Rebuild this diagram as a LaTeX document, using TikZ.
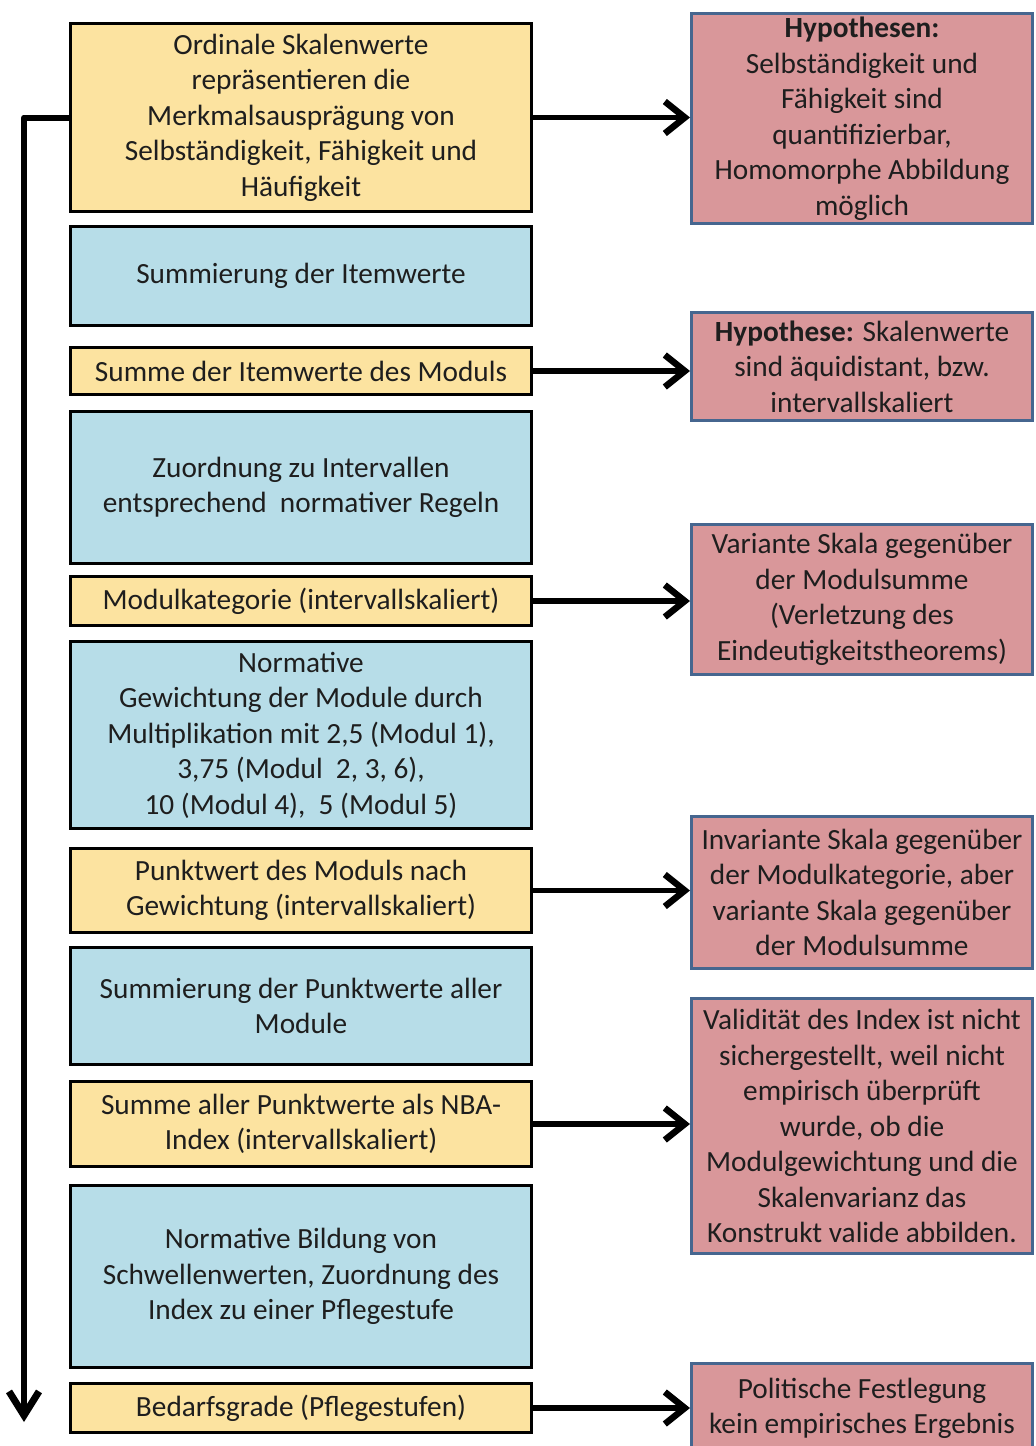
\documentclass[tikz,border=0pt]{standalone}
\usepackage{fontspec}
\setmainfont{Carlito}
\usetikzlibrary{arrows.meta}
\definecolor{stepyellow}{HTML}{FCE3A0}
\definecolor{stepblue}{HTML}{B7DDE8}
\definecolor{hypred}{HTML}{D9979A}
\definecolor{hypborder}{HTML}{46668F}
\definecolor{textdark}{HTML}{1E1E1E}
\begin{document}
\begin{tikzpicture}[x=1pt,y=-1pt,
  base/.style={rectangle, align=center, inner sep=0pt, text=textdark,
    font=\fontsize{29.3}{35.5}\selectfont},
  stepbox/.style={base, draw=black, line width=3.5pt, minimum width=461pt},
  yellowbox/.style={stepbox, fill=stepyellow},
  bluebox/.style={stepbox, fill=stepblue},
  hypbox/.style={base, draw=hypborder, fill=hypred, line width=3pt, minimum width=341pt},
  link/.style={line width=5.5pt, line join=round,
    -{Straight Barb[length=20pt,width=32pt,line width=6.5pt]}}
]
\useasboundingbox (0,0) rectangle (1036,1446);
\clip (0,0) rectangle (1036,1446);

% process steps (left column)
\node[yellowbox, minimum height=188pt] (s1) at (301,117.5)
  {Ordinale Skalenwerte\\repräsentieren die\\Merkmalsausprägung von\\Selbständigkeit, Fähigkeit und\\Häufigkeit};
\node[bluebox, minimum height=99pt] (s2) at (301,276)
  {Summierung der Itemwerte};
\node[yellowbox, minimum height=47pt] (s3) at (301,371)
  {Summe der Itemwerte des Moduls};
\node[bluebox, minimum height=152pt] (s4) at (301,487.5)
  {Zuordnung zu Intervallen\\entsprechend\ \ normativer Regeln};
\node[yellowbox, minimum height=49pt] (s5) at (301,601)
  {Modulkategorie (intervallskaliert)};
\node[bluebox, minimum height=187pt] (s6) at (301,735)
  {Normative\\Gewichtung der Module durch\\Multiplikation mit 2,5 (Modul 1),\\3,75 (Modul\ \ 2, 3, 6),\\10 (Modul 4),\ \ 5 (Modul 5)};
\node[yellowbox, minimum height=84pt] (s7) at (301,890.5)
  {Punktwert des Moduls nach\\Gewichtung (intervallskaliert)};
\node[bluebox, minimum height=117pt] (s8) at (301,1006)
  {Summierung der Punktwerte aller\\Module};
\node[yellowbox, minimum height=85pt] (s9) at (301,1124)
  {Summe aller Punktwerte als NBA-\\Index (intervallskaliert)};
\node[bluebox, minimum height=182pt] (s10) at (301,1276.5)
  {Normative Bildung von\\Schwellenwerten, Zuordnung des\\Index zu einer Pflegestufe};
\node[yellowbox, minimum height=49pt] (s11) at (301,1408)
  {Bedarfsgrade (Pflegestufen)};

% assessments (right column)
\node[hypbox, minimum height=210pt] (r1) at (862,118.5)
  {\textbf{Hypothesen:}\\Selbständigkeit und\\Fähigkeit sind\\quantifizierbar,\\Homomorphe Abbildung\\möglich};
\node[hypbox, minimum height=108pt] (r2) at (862,366.5)
  {\textbf{Hypothese:} Skalenwerte\\sind äquidistant, bzw.\\intervallskaliert};
\node[hypbox, minimum height=150pt] (r3) at (862,599.5)
  {Variante Skala gegenüber\\der Modulsumme\\(Verletzung des\\Eindeutigkeitstheorems)};
\node[hypbox, minimum height=152pt] (r4) at (862,892.5)
  {Invariante Skala gegenüber\\der Modulkategorie, aber\\variante Skala gegenüber\\der Modulsumme};
\node[hypbox, minimum height=255pt] (r5) at (862,1126)
  {Validität des Index ist nicht\\sichergestellt, weil nicht\\empirisch überprüft\\wurde, ob die\\Modulgewichtung und die\\Skalenvarianz das\\Konstrukt valide abbilden.};
\node[hypbox, minimum height=90pt] (r6) at (862,1408.5)
  {Politische Festlegung\\kein empirisches Ergebnis};

% connectors
\draw[link] (s1.east) -- (s1.east -| r1.west);
\draw[link] (s3.east) -- (s3.east -| r2.west);
\draw[link] (s5.east) -- (s5.east -| r3.west);
\draw[link] (s7.east) -- (s7.east -| r4.west);
\draw[link] (s9.east) -- (s9.east -| r5.west);
\draw[link] (s11.east) -- (s11.east -| r6.west);

% overall flow along the left margin
\coordinate (flowend) at (24,1422);
\draw[link, line width=6pt, -{Straight Barb[length=24pt,width=30pt,line width=7pt]}]
  (s1.west) -| (flowend);
\end{tikzpicture}
\end{document}
